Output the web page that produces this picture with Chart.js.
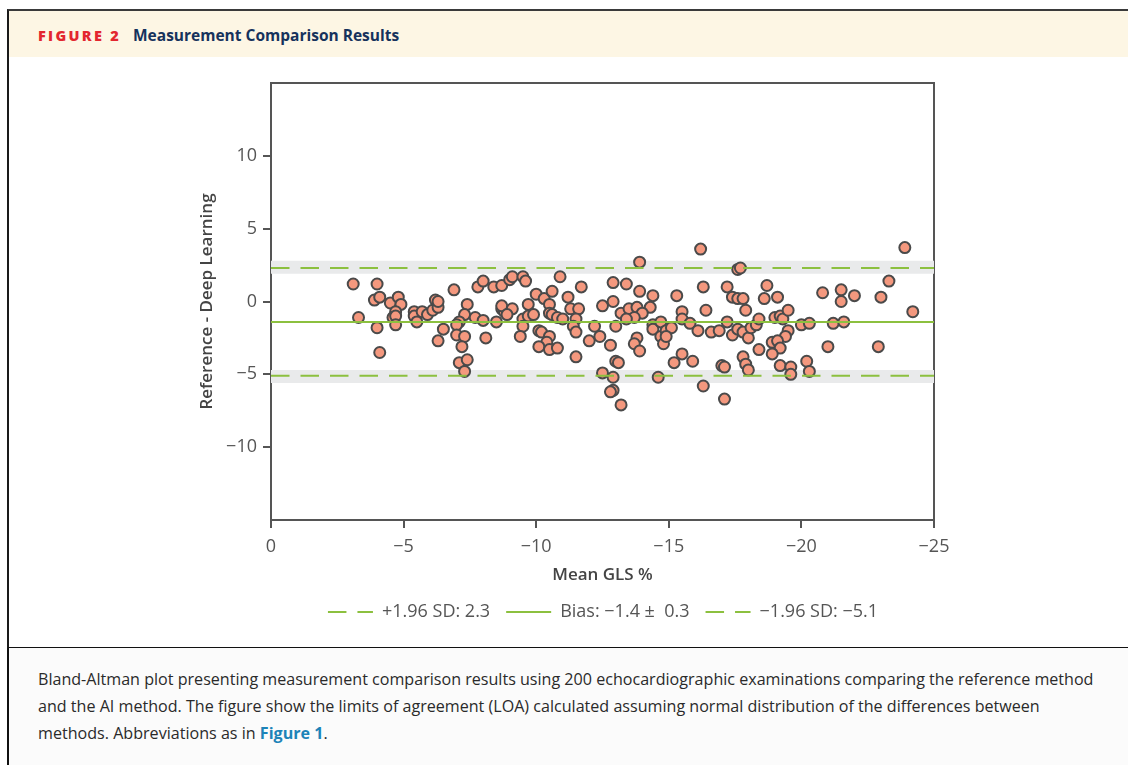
<!DOCTYPE html>
<html>
<head>
<meta charset="utf-8">
<script src="https://cdn.jsdelivr.net/npm/chart.js@4.4.1/dist/chart.umd.min.js"></script>
<style>
html, body { margin: 0; padding: 0; background: #fff; }
body { width: 1128px; height: 765px; position: relative; overflow: hidden; font-family: "Open Sans", sans-serif; }
#frame { position: absolute; left: 7px; top: 9px; width: 1140px; height: 636px; border-left: 2px solid #1a1a1a; border-top: 2px solid #3a3a3a; border-bottom: 2px solid #111; }
#head { position: absolute; left: 9px; top: 11px; width: 1119px; height: 46px; background: #fdf6e4; }
#head .fig { position: absolute; left: 29px; top: 15px; font-size: 14.5px; font-weight: 800; letter-spacing: 2.3px; color: #e3262f; line-height: 19px; }
#head .ttl { position: absolute; left: 124px; top: 14px; font-size: 15.5px; font-weight: 700; color: #16325c; line-height: 20px; }
#caption { position: absolute; left: 7px; top: 648px; width: 1121px; height: 117px; border-left: 2px solid #111; background: #fbfbfb; }
#caption p { margin: 0; position: absolute; left: 29px; top: 18px; font-size: 16.1px; line-height: 27px; color: #2a2a2a; white-space: nowrap; }
#caption b { color: #1c83b8; font-weight: 700; }
#wrap { position: absolute; left: 182px; top: 58px; width: 842px; height: 582px; }
</style>
</head>
<body>
<div id="frame"></div>
<div id="head"><span class="fig">FIGURE 2</span><span class="ttl">Measurement Comparison Results</span></div>
<div id="wrap"><canvas id="bland"></canvas></div>
<div id="caption"><p>Bland-Altman plot presenting measurement comparison results using 200 echocardiographic examinations comparing the reference method<br>and the AI method. The figure show the limits of agreement (LOA) calculated assuming normal distribution of the differences between<br>methods. Abbreviations as in <b>Figure 1</b>.</p></div>
<script>
// mean GLS (%) of the two methods
const meanGls = [
  -3.1, -4.0, -3.9, -4.1, -3.3, -4.0, -4.1, -4.5, -4.8, -4.9,
  -4.7, -4.6, -4.7, -4.7, -5.4, -5.4, -5.5, -5.7, -5.9, -6.1,
  -6.2, -6.3, -6.3, -6.9, -6.5, -6.3, -7.4, -7.3, -7.1, -7.0,
  -7.0, -7.3, -7.2, -7.1, -7.4, -7.3, -7.7, -8.0, -8.1, -7.8,
  -8.0, -8.4, -8.7, -8.5, -8.7, -8.8, -8.7, -9.0, -9.1, -9.5,
  -9.6, -10.9, -11.7, -9.1, -8.9, -9.7, -10.0, -10.3, -10.6, -10.5,
  -10.5, -10.6, -10.8, -11.0, -9.5, -9.7, -9.9, -9.5, -9.4, -10.1,
  -10.2, -10.5, -10.4, -10.1, -10.5, -10.8, -11.2, -11.3, -11.6, -11.5,
  -11.4, -11.5, -11.5, -12.0, -12.2, -12.4, -12.5, -12.9, -13.4, -12.9,
  -12.8, -13.0, -13.0, -13.1, -12.5, -12.9, -12.9, -12.8, -13.2, -13.9,
  -13.9, -14.4, -13.2, -13.5, -13.8, -14.3, -14.0, -13.7, -13.4, -13.8,
  -13.7, -13.9, -14.4, -14.4, -14.7, -14.7, -14.8, -14.9, -14.6, -16.2,
  -17.6, -17.7, -15.3, -16.3, -17.2, -17.4, -17.6, -17.8, -17.9, -18.7,
  -18.6, -19.1, -20.8, -15.5, -15.5, -15.8, -16.1, -15.1, -14.9, -16.4,
  -16.6, -16.9, -17.2, -17.4, -17.6, -17.8, -18.0, -18.1, -18.3, -18.4,
  -19.0, -19.2, -19.3, -19.5, -19.5, -19.4, -18.9, -19.1, -19.2, -18.9,
  -18.4, -20.0, -20.3, -21.0, -15.5, -15.2, -15.9, -17.0, -17.1, -17.8,
  -17.9, -18.0, -19.2, -19.6, -19.6, -20.2, -20.3, -16.3, -17.1, -21.2,
  -23.9, -23.3, -21.5, -21.5, -22.0, -23.0, -24.2, -21.6, -22.9
];
// reference minus deep learning
const difference = [
  1.2, 1.2, 0.1, 0.3, -1.1, -1.8, -3.5, -0.1, 0.3, -0.2,
  -0.7, -1.1, -1.0, -1.6, -0.7, -1.0, -1.4, -0.7, -0.9, -0.6,
  0.1, -0.4, 0.0, 0.8, -1.9, -2.7, -0.2, -0.9, -1.4, -1.6,
  -2.3, -2.4, -3.1, -4.2, -4.0, -4.8, -1.1, -1.3, -2.5, 1.0,
  1.4, 1.0, 1.1, -1.4, -0.5, -0.7, -0.3, 1.5, 1.7, 1.7,
  1.4, 1.7, 1.0, -0.5, -0.9, -0.2, 0.5, 0.2, 0.7, -0.2,
  -0.8, -0.9, -1.1, -1.2, -1.2, -1.0, -0.9, -1.7, -2.4, -2.0,
  -2.1, -2.4, -2.8, -3.1, -3.3, -3.2, 0.3, -0.5, -0.5, -1.2,
  -1.7, -2.1, -3.8, -2.7, -1.7, -2.4, -0.3, 1.3, 1.2, 0.0,
  -3.0, -1.7, -4.1, -4.2, -4.9, -5.2, -6.1, -6.2, -7.1, 2.7,
  0.7, 0.4, -0.8, -0.5, -0.4, -0.4, -0.8, -1.1, -1.2, -2.5,
  -2.9, -3.4, -1.6, -1.9, -1.4, -2.4, -2.9, -2.0, -5.2, 3.6,
  2.2, 2.3, 0.4, 1.0, 1.0, 0.3, 0.2, 0.2, -0.6, 1.1,
  0.2, 0.3, 0.6, -0.7, -1.2, -1.5, -2.0, -1.8, -2.4, -0.6,
  -2.1, -2.0, -1.4, -2.3, -1.9, -2.1, -2.5, -1.8, -1.6, -1.2,
  -1.1, -1.0, -1.2, -0.6, -2.0, -2.4, -2.8, -2.7, -3.2, -3.6,
  -3.3, -1.6, -1.5, -3.1, -3.6, -4.2, -4.1, -4.4, -4.5, -3.8,
  -4.3, -4.7, -4.4, -4.5, -5.0, -4.1, -4.8, -5.8, -6.7, -1.5,
  3.7, 1.4, 0.8, 0.0, 0.4, 0.3, -0.7, -1.4, -3.1
];

const upperLoa = 2.3;
const biasValue = -1.4;
const biasCi = 0.3;
const lowerLoa = -5.1;
const upperLoaCi = [1.9, 2.8];
const lowerLoaCi = [-5.6, -4.7];

const xRange = [-25, 0];
const yRange = [-15, 15];
const xTicks = [0, -5, -10, -15, -20, -25];
const yTicks = [-10, -5, 0, 5, 10];

const fmt = v => v < 0 ? '\u2212' + Math.abs(v) : String(v);
const hline = y => [{x: xRange[1], y: y}, {x: xRange[0], y: y}];

const green = '#8cc03f';
const axisGrey = '#555555';
const tickFont = {family: 'Open Sans', size: 18};
const titleFont = {family: 'Open Sans', size: 17, weight: '600'};

const points = meanGls.map((m, i) => ({x: m, y: difference[i]}));

// legend samples should keep the dash of their line
const legendLabels = chart =>
  Chart.defaults.plugins.legend.labels.generateLabels(chart).map(item => ({
    ...item,
    lineDash: chart.data.datasets[item.datasetIndex].borderDash || []
  }));

new Chart(document.getElementById('bland'), {
  type: 'scatter',
  data: {
    datasets: [
      {label: '+1.96 SD: ' + fmt(upperLoa), data: hline(upperLoa), showLine: true,
       borderColor: green, borderWidth: 2, borderDash: [18.5, 11], pointRadius: 0, order: 0},
      {label: 'Bias: ' + fmt(biasValue) + ' \u00b1  ' + biasCi, data: hline(biasValue), showLine: true,
       borderColor: green, borderWidth: 2, pointRadius: 0, order: 0},
      {label: '\u22121.96 SD: ' + fmt(lowerLoa), data: hline(lowerLoa), showLine: true,
       borderColor: green, borderWidth: 2, borderDash: [18.5, 11], pointRadius: 0, order: 0},
      {label: 'diff', data: points, pointRadius: 5.5, pointBorderWidth: 2,
       pointBackgroundColor: '#f4987e', pointBorderColor: '#4a4a4a', order: 1},
      {label: 'upper ci', data: hline(upperLoaCi[0]), showLine: true, borderWidth: 0, pointRadius: 0,
       fill: {value: upperLoaCi[1]}, backgroundColor: '#e9eaeb', order: 2},
      {label: 'lower ci', data: hline(lowerLoaCi[0]), showLine: true, borderWidth: 0, pointRadius: 0,
       fill: {value: lowerLoaCi[1]}, backgroundColor: '#e9eaeb', order: 2}
    ]
  },
  options: {
    responsive: true,
    maintainAspectRatio: false,
    animation: false,
    events: [],
    layout: {padding: {top: 25, bottom: 9, left: 0, right: 0}},
    plugins: {
      tooltip: {enabled: false},
      legend: {
        position: 'bottom',
        labels: {
          generateLabels: legendLabels,
          filter: item => item.datasetIndex < 3,
          usePointStyle: true,
          pointStyle: 'line',
          pointStyleWidth: 45,
          padding: 16,
          color: axisGrey,
          font: tickFont
        }
      }
    },
    scales: {
      x: {
        type: 'linear', position: 'bottom', min: xRange[0], max: xRange[1], reverse: true,
        afterBuildTicks: s => { s.ticks = xTicks.map(v => ({value: v})); },
        afterFit: s => { s.height = 67; },
        ticks: {callback: v => fmt(v), font: tickFont, color: axisGrey, padding: 8, maxRotation: 0, autoSkip: false},
        grid: {drawOnChartArea: false, drawTicks: true, tickLength: 8, color: axisGrey, lineWidth: 2},
        border: {display: true, color: axisGrey, width: 2},
        title: {display: true, text: 'Mean GLS %', font: titleFont, color: '#444', padding: {top: 4, bottom: 2}}
      },
      xTop: {
        type: 'linear', position: 'top',
        afterFit: s => { s.height = 0; },
        ticks: {display: false}, grid: {display: false},
        border: {display: true, color: axisGrey, width: 2}
      },
      y: {
        type: 'linear', position: 'left', min: yRange[0], max: yRange[1],
        afterBuildTicks: s => { s.ticks = yTicks.map(v => ({value: v})); },
        afterFit: s => { s.width = 89; },
        ticks: {callback: v => fmt(v), font: tickFont, color: axisGrey, padding: 6},
        grid: {drawOnChartArea: false, drawTicks: true, tickLength: 8, color: axisGrey, lineWidth: 2},
        border: {display: true, color: axisGrey, width: 2},
        title: {display: true, text: 'Reference - Deep Learning', font: titleFont, color: '#444', padding: {top: 15, bottom: 0}}
      },
      yRight: {
        type: 'linear', position: 'right',
        afterFit: s => { s.width = 90; },
        ticks: {display: false}, grid: {display: false},
        border: {display: true, color: axisGrey, width: 2}
      }
    }
  }
});
</script>
</body>
</html>
